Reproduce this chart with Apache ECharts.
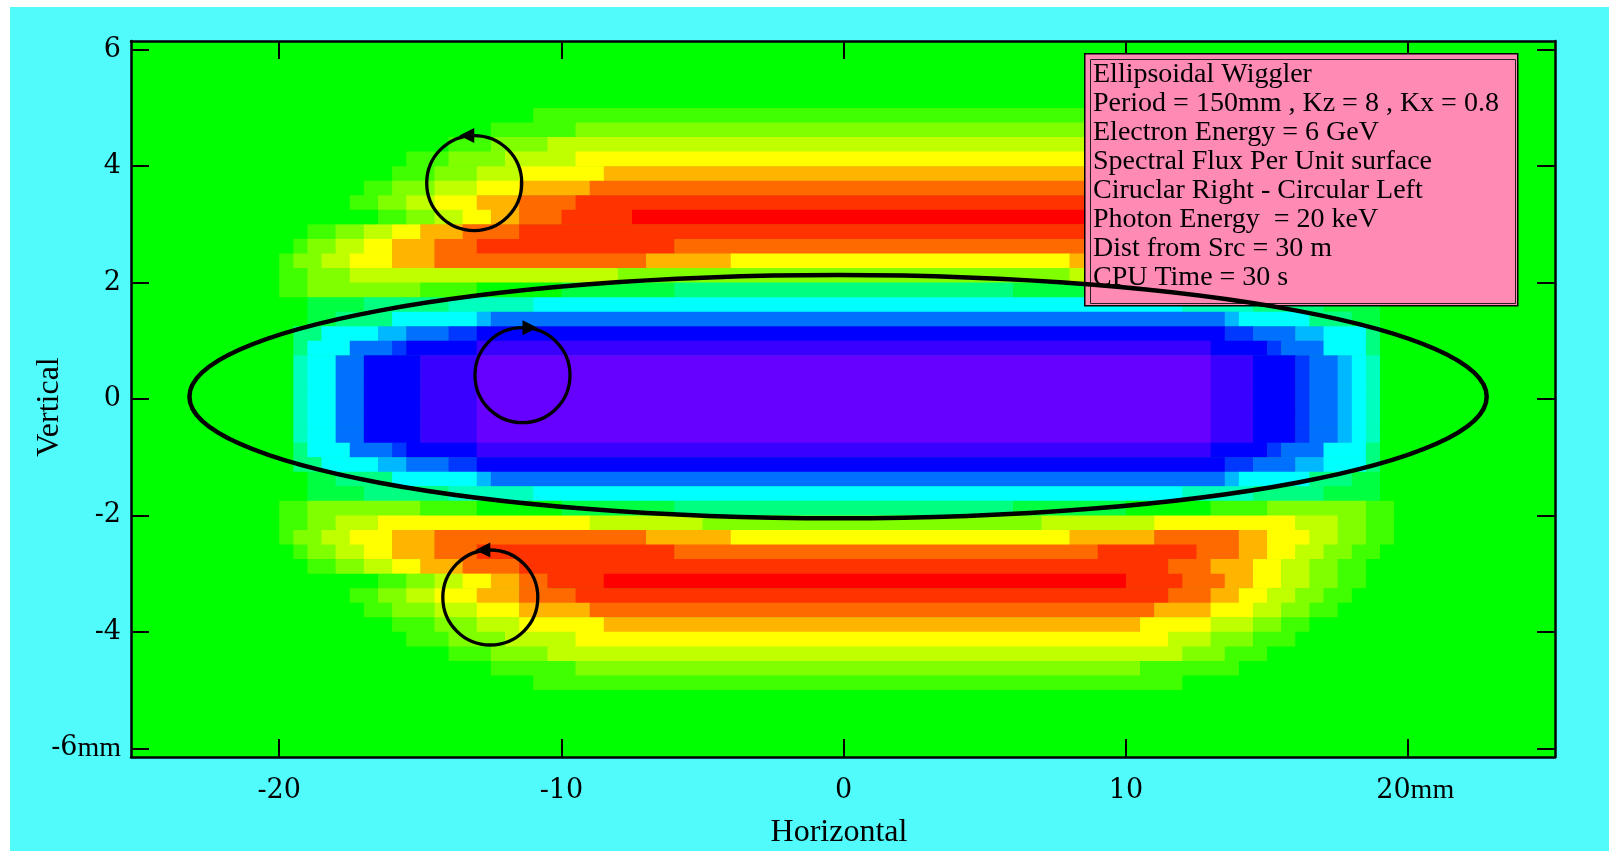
<!DOCTYPE html>
<html>
<head>
<meta charset="utf-8">
<script src="https://cdn.jsdelivr.net/npm/echarts@6/dist/echarts.min.js"></script>
<style>
html,body{margin:0;padding:0;background:#ffffff;}
#chart{width:1620px;height:860px;}
</style>
</head>
<body>
<div id="chart"></div>
<script>
// ---------- axis tick labels ----------
const xTicks = [-20, -10, 0, 10, 20];
const yTicks = [-6, -4, -2, 0, 2, 4, 6];

// ---------- map of (Circular Right - Circular Left) flux, relative levels ----------
// Each row is read from the picture left->right as [level, number of 0.5 mm cells];
// rows are 0.25 mm tall, from y = +6 mm (top) down to y = -6 mm.
const upperLobeRows = [
  [[0,100]],
  [[0,100]],
  [[0,100]],
  [[0,100]],
  [[0,28],[1,46],[0,26]],
  [[0,25],[1,6],[2,40],[1,7],[0,22]],
  [[0,22],[1,3],[2,4],[3,45],[2,3],[1,3],[0,20]],
  [[0,19],[1,3],[2,4],[3,5],[4,42],[3,3],[2,3],[1,3],[0,18]],
  [[0,18],[1,3],[2,3],[3,3],[4,6],[5,38],[4,5],[3,3],[2,2],[1,2],[0,17]],
  [[0,16],[1,2],[2,3],[3,3],[4,3],[5,5],[6,40],[5,4],[4,3],[3,2],[2,2],[1,2],[0,15]],
  [[0,15],[1,2],[2,2],[3,2],[4,3],[5,3],[6,4],[7,42],[6,3],[5,2],[4,2],[3,2],[2,2],[1,2],[0,14]],
  [[0,17],[1,2],[2,2],[3,2],[4,2],[5,2],[6,3],[7,5],[8,35],[7,5],[6,3],[5,2],[4,2],[3,2],[2,2],[1,2],[0,12]],
  [[0,12],[1,2],[2,2],[3,2],[4,2],[5,3],[6,4],[7,46],[6,3],[5,3],[4,2],[3,2],[2,2],[1,2],[0,13]],
  [[0,11],[1,1],[2,2],[3,2],[4,2],[5,3],[6,3],[7,14],[6,30],[7,7],[6,3],[5,2],[4,2],[3,2],[2,2],[1,2],[0,12]],
  [[0,10],[1,1],[2,2],[3,2],[4,3],[5,3],[6,15],[5,6],[4,24],[5,6],[6,6],[5,2],[4,3],[3,2],[2,2],[1,2],[0,11]],
  [[0,10],[1,2],[2,3],[3,19],[2,32],[3,16],[2,5],[1,2],[0,11]]
];
const coreRows = [
  [[0,10],[1,2],[2,8],[1,4],[0,6],[-1,8],[-2,24],[-1,8],[0,6],[1,4],[2,7],[1,2],[0,11]],
  [[0,12],[-1,4],[-2,6],[-3,6],[-4,46],[-3,5],[-2,5],[-1,4],[0,12]],
  [[0,12],[-1,2],[-2,4],[-4,6],[-5,1],[-6,52],[-5,1],[-4,5],[-2,3],[-1,2],[0,12]],
  [[0,11],[-2,2],[-4,4],[-5,2],[-6,3],[-7,2],[-8,53],[-7,2],[-6,3],[-5,2],[-4,3],[-2,1],[0,12]],
  [[0,11],[-2,1],[-4,3],[-6,3],[-7,1],[-8,5],[-9,52],[-8,4],[-7,1],[-6,3],[-4,3],[-2,1],[0,12]],
  [[0,11],[-3,1],[-4,2],[-6,2],[-8,4],[-9,4],[-10,52],[-9,3],[-8,3],[-7,1],[-6,2],[-5,1],[-4,1],[-3,1],[0,12]],
  [[0,11],[-3,1],[-4,2],[-6,2],[-8,4],[-9,4],[-10,52],[-9,3],[-8,3],[-7,1],[-6,2],[-5,1],[-4,1],[-3,1],[0,12]],
  [[0,11],[-3,1],[-4,2],[-6,2],[-8,4],[-9,4],[-10,52],[-9,3],[-8,3],[-7,1],[-6,2],[-5,1],[-4,1],[-3,1],[0,12]],
  [[0,11],[-3,1],[-4,2],[-6,2],[-8,4],[-9,4],[-10,52],[-9,3],[-8,3],[-7,1],[-6,2],[-5,1],[-4,1],[-3,1],[0,12]],
  [[0,11],[-3,1],[-4,2],[-6,2],[-8,4],[-9,4],[-10,52],[-9,3],[-8,3],[-7,1],[-6,2],[-5,1],[-4,1],[-3,1],[0,12]],
  [[0,11],[-3,1],[-4,2],[-6,2],[-8,4],[-9,4],[-10,52],[-9,3],[-8,3],[-7,1],[-6,2],[-5,1],[-4,1],[-3,1],[0,12]],
  [[0,11],[-2,1],[-4,3],[-6,3],[-7,1],[-8,5],[-9,52],[-8,4],[-7,1],[-6,3],[-4,3],[-2,1],[0,12]],
  [[0,11],[-2,2],[-4,4],[-5,2],[-6,3],[-7,2],[-8,53],[-7,2],[-6,3],[-5,2],[-4,3],[-2,1],[0,12]],
  [[0,12],[-1,2],[-2,4],[-4,6],[-5,1],[-6,52],[-5,1],[-4,5],[-2,3],[-1,2],[0,12]],
  [[0,12],[-1,4],[-2,6],[-3,6],[-4,46],[-3,5],[-2,5],[-1,4],[0,12]],
  [[0,10],[1,2],[2,8],[1,4],[0,6],[-1,8],[-2,24],[-1,8],[0,6],[1,4],[2,7],[1,2],[0,11]]
];
const lowerLobeRows = [
  [[0,10],[1,2],[2,2],[3,3],[4,15],[3,8],[2,24],[3,8],[4,10],[3,3],[2,2],[1,2],[0,11]],
  [[0,10],[1,1],[2,2],[3,2],[4,3],[5,3],[6,15],[5,6],[4,24],[5,6],[6,6],[5,2],[4,3],[3,2],[2,2],[1,2],[0,11]],
  [[0,11],[1,1],[2,2],[3,2],[4,2],[5,3],[6,3],[7,14],[6,30],[7,7],[6,3],[5,2],[4,2],[3,2],[2,2],[1,2],[0,12]],
  [[0,12],[1,2],[2,2],[3,2],[4,2],[5,3],[6,4],[7,46],[6,3],[5,3],[4,2],[3,2],[2,2],[1,2],[0,13]],
  [[0,17],[1,2],[2,2],[3,2],[4,2],[5,2],[6,2],[7,4],[8,37],[7,4],[6,3],[5,2],[4,2],[3,2],[2,2],[1,2],[0,13]],
  [[0,15],[1,2],[2,2],[3,2],[4,3],[5,3],[6,4],[7,42],[6,3],[5,2],[4,2],[3,2],[2,2],[1,2],[0,14]],
  [[0,16],[1,2],[2,3],[3,3],[4,3],[5,5],[6,40],[5,4],[4,3],[3,2],[2,2],[1,2],[0,15]],
  [[0,18],[1,3],[2,3],[3,3],[4,6],[5,38],[4,5],[3,3],[2,2],[1,2],[0,17]],
  [[0,19],[1,3],[2,4],[3,5],[4,42],[3,3],[2,3],[1,3],[0,18]],
  [[0,22],[1,3],[2,4],[3,45],[2,3],[1,3],[0,20]],
  [[0,25],[1,6],[2,40],[1,7],[0,22]],
  [[0,28],[1,46],[0,26]],
  [[0,100]],
  [[0,100]],
  [[0,100]],
  [[0,100]]
];

// ---------- annotations (data coordinates, mm) ----------
const ellipseMark = [[-0.2, 0.04, 22.98, 2.09]];           // cx, cy, rx, ry
const circleMarks = [[-13.09, 3.71, -1], [-11.38, 0.41, 1], [-12.52, -3.41, -1]]; // cx, cy, arrow direction

const boxLines = [
  'Ellipsoidal Wiggler',
  'Period = 150mm , Kz = 8 , Kx = 0.8',
  'Electron Energy = 6 GeV',
  'Spectral Flux Per Unit surface',
  'Ciruclar Right - Circular Left',
  'Photon Energy  = 20 keV',
  'Dist from Src = 30 m',
  'CPU Time = 30 s'
];

// ---------- sampling grid ----------
const X_LEFT = -25, Y_TOP = 6, CELL_W = 0.5, CELL_H = 0.25;

const allRows = upperLobeRows.concat(coreRows, lowerLobeRows);
const cellData = [];
allRows.forEach(function (runs, r) {
  const y = Y_TOP - CELL_H * (r + 0.5);
  let x = X_LEFT;
  runs.forEach(function (run) {
    const x1 = x + run[1] * CELL_W;
    cellData.push([x, x1, y, run[0]]);
    x = x1;
  });
});

const rainbow = ['#6600ff','#3a00ff','#0000ff','#0038ff','#0070ff','#00b8ff','#00ffff','#00ffbf','#00ff80','#00ff40',
                 '#00ff00','#40ff00','#80ff00','#bfff00','#ffff00','#ffb400','#ff6a00','#ff3300','#ff0000'];

const SERIF = '"Liberation Serif", "Times New Roman", serif';
const DVS = '"DejaVu Serif", serif';
const tickRich = {
  n: {fontFamily: DVS, fontSize: 27, color: '#000'},
  p: {fontFamily: DVS, fontSize: 27, color: '#000', padding: [0, 0, 0, 14]},
  u: {fontFamily: SERIF, fontSize: 28, color: '#000'}
};
const axisLineStyle = {show: true, onZero: false, lineStyle: {color: '#000', width: 2.5}};
const tickStyle = {show: true, inside: true, length: 18, lineStyle: {color: '#000', width: 2}};

const X_MIN = -25.25, X_MAX = 25.2, Y_MIN = -6.15, Y_MAX = 6.15;

const chart = echarts.init(document.getElementById('chart'), null, {renderer: 'canvas'});
chart.setOption({
  animation: false,
  backgroundColor: '#ffffff',
  grid: {left: 131, top: 41, width: 1424, height: 716, show: true, backgroundColor: '#00ff00',
         borderWidth: 0, containLabel: false, outerBoundsMode: 'none'},
  xAxis: [
    {type: 'value', position: 'bottom', min: X_MIN, max: X_MAX, z: 10,
     axisLine: axisLineStyle,
     axisTick: Object.assign({customValues: xTicks}, tickStyle),
     axisLabel: {customValues: xTicks, margin: 20, showMinLabel: true, showMaxLabel: true, rich: tickRich,
       formatter: function (v) { return v === 20 ? '{p|20}{u|mm}' : '{n|' + v + '}'; }},
     splitLine: {show: false},
     name: 'Horizontal', nameLocation: 'middle', nameGap: 60,
     nameTextStyle: {fontFamily: SERIF, fontSize: 32, color: '#000', padding: [0, 8, 0, 0]}},
    {type: 'value', position: 'top', min: X_MIN, max: X_MAX, z: 10,
     axisLine: axisLineStyle,
     axisTick: Object.assign({customValues: xTicks}, tickStyle),
     axisLabel: {show: false}, splitLine: {show: false}}
  ],
  yAxis: [
    {type: 'value', position: 'left', min: Y_MIN, max: Y_MAX, z: 10,
     axisLine: axisLineStyle,
     axisTick: Object.assign({customValues: yTicks}, tickStyle),
     axisLabel: {customValues: yTicks, margin: 10, showMinLabel: true, showMaxLabel: true, rich: tickRich,
       formatter: function (v) { return v === -6 ? '{n|-6}{u|mm}' : '{n|' + v + '}'; }},
     splitLine: {show: false}},
    {type: 'value', position: 'right', min: Y_MIN, max: Y_MAX, z: 10,
     axisLine: axisLineStyle,
     axisTick: Object.assign({customValues: yTicks}, tickStyle),
     axisLabel: {show: false}, splitLine: {show: false}}
  ],
  visualMap: {type: 'continuous', show: false, min: -10, max: 8, dimension: 3, seriesIndex: 0,
              inRange: {color: rainbow}},
  graphic: [
    {type: 'rect', left: 10, top: 7, z: -100, silent: true,
     shape: {width: 1599, height: 844}, style: {fill: '#52fbfb'}},
    {type: 'text', x: 50, y: 407, rotation: Math.PI / 2, z: 5, silent: true,
     style: {text: 'Vertical', font: '32px ' + SERIF, fill: '#000', align: 'center', verticalAlign: 'middle'}},
    {type: 'rect', left: 1084, top: 53, z: 20, silent: true,
     shape: {width: 433, height: 252}, style: {fill: '#ff8ab4', stroke: '#000', lineWidth: 1.5}},
    {type: 'rect', left: 1088, top: 57, z: 21, silent: true,
     shape: {width: 425, height: 244}, style: {fill: 'none', stroke: '#222', lineWidth: 1}},
    {type: 'text', left: 1093, top: 60, z: 22, silent: true,
     style: {text: boxLines.join('\n'), font: '28px ' + SERIF, fill: '#000', lineHeight: 29}}
  ],
  series: [
    {type: 'custom', name: 'flux', xAxisIndex: 0, yAxisIndex: 0, z: 2, clip: true,
     encode: {x: [0, 1], y: 2},
     data: cellData,
     renderItem: function (params, api) {
       const a = api.coord([api.value(0), api.value(2) + CELL_H / 2]);
       const b = api.coord([api.value(1), api.value(2) - CELL_H / 2]);
       return {type: 'rect', shape: {x: a[0], y: a[1], width: b[0] - a[0] + 0.5, height: b[1] - a[1] + 0.5},
               style: {fill: api.visual('color')}};
     }},
    {type: 'custom', name: 'ellipse', xAxisIndex: 0, yAxisIndex: 0, z: 30, silent: true,
     data: ellipseMark,
     renderItem: function (params, api) {
       const c = api.coord([api.value(0), api.value(1)]);
       const e = api.coord([api.value(0) + api.value(2), api.value(1) + api.value(3)]);
       return {type: 'ellipse', shape: {cx: c[0], cy: c[1], rx: e[0] - c[0], ry: c[1] - e[1]},
               style: {fill: 'none', stroke: '#000', lineWidth: 4.5}};
     }},
    {type: 'custom', name: 'polarisation', xAxisIndex: 0, yAxisIndex: 0, z: 31, silent: true,
     data: circleMarks,
     renderItem: function (params, api) {
       const c = api.coord([api.value(0), api.value(1)]);
       const d = api.value(2);
       const r = 47.5;
       const top = c[1] - r;
       return {type: 'group', children: [
         {type: 'circle', shape: {cx: c[0], cy: c[1], r: r}, style: {fill: 'none', stroke: '#000', lineWidth: 3.3}},
         {type: 'polygon', shape: {points: [[c[0] + d * 15, top], [c[0], top - 7.5], [c[0], top + 7.5]]},
          style: {fill: '#000'}}
       ]};
     }}
  ]
});
</script>
</body>
</html>
